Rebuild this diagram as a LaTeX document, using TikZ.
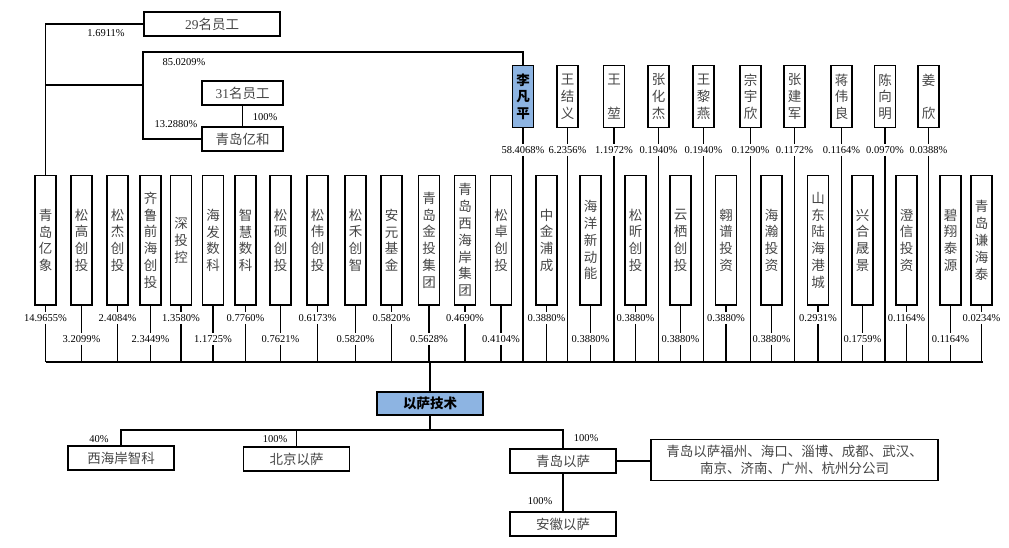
\documentclass[tikz,border=0pt]{standalone}
\usepackage{fontspec}
\setmainfont{Liberation Serif}
\newfontfamily\cjk{Noto Sans CJK SC}
\definecolor{hl}{RGB}{141,180,226}
\definecolor{txt}{RGB}{70,70,70}
\begin{document}
\begin{tikzpicture}[x=1pt,y=-1pt,
  ln/.style={line width=1.3pt},
  bx/.style={draw=black, line width=1.5pt, fill=white, inner sep=0pt, text=txt,
    font=\cjk\fontsize{13.5}{16.8}\selectfont, align=center},
  vb/.style={bx, minimum width=21pt, minimum height=129pt, anchor=north},
  pb/.style={bx, minimum width=21pt, minimum height=62pt, anchor=north},
  hb/.style={bx, minimum width=106pt, minimum height=24pt},
  pct/.style={font=\fontsize{10.5}{11}\selectfont, inner sep=2pt, text=black},
  hi/.style={fill=hl, text=black, font=\cjk\bfseries\fontsize{13.5}{16.8}\selectfont}
]
\fill[white] (0,0) rectangle (1009,548);
\useasboundingbox (0,0) rectangle (1009,548);

\coordinate (bus) at (45.5,362);
\coordinate (busE) at (983,362);
\draw[ln] (bus) -- (busE);

% companies
\foreach \i/\x/\t/\p/\ly in {
 1/45.5/{青\\岛\\亿\\象}/14.9655/318,
 2/81.5/{松\\高\\创\\投}/3.2099/339,
 3/117.5/{松\\杰\\创\\投}/2.4084/318,
 4/150.5/{齐\\鲁\\前\\海\\创\\投}/2.3449/339,
 5/181/{深\\投\\控}/1.3580/318,
 6/213/{海\\发\\数\\科}/1.1725/339,
 7/245.5/{智\\慧\\数\\科}/0.7760/318,
 8/280.5/{松\\硕\\创\\投}/0.7621/339,
 9/317.5/{松\\伟\\创\\投}/0.6173/318,
 10/355.5/{松\\禾\\创\\智}/0.5820/339,
 11/391.5/{安\\元\\基\\金}/0.5820/318,
 12/429/{青\\岛\\金\\投\\集\\团}/0.5628/339,
 13/465/{青\\岛\\西\\海\\岸\\集\\团}/0.4690/318,
 14/501/{松\\卓\\创\\投}/0.4104/339,
 15/546.5/{中\\金\\浦\\成}/0.3880/318,
 16/590.5/{海\\洋\\新\\动\\能}/0.3880/339,
 17/635.5/{松\\昕\\创\\投}/0.3880/318,
 18/680.5/{云\\栖\\创\\投}/0.3880/339,
 19/726/{翱\\谱\\投\\资}/0.3880/318,
 20/771.5/{海\\瀚\\投\\资}/0.3880/339,
 21/818/{山\\东\\陆\\海\\港\\城}/0.2931/318,
 22/862.5/{兴\\合\\晟\\景}/0.1759/339,
 23/906.5/{澄\\信\\投\\资}/0.1164/318,
 24/950.5/{碧\\翔\\泰\\源}/0.1164/339,
 25/981.5/{青\\岛\\谦\\海\\泰}/0.0234/318}{
  \node[vb] (c\i) at (\x,175) {\t};
  \node[pct] (l\i) at (\x,\ly) {\p\%};
  \draw[ln] (c\i.south) -- (l\i.north);
  \draw[ln] (l\i.south) -- (l\i.south |- bus);
}

% persons
\node[pb,hi] (p1) at (523,65) {李\\凡\\平};
\foreach \i/\x/\t in {
 2/567.5/{王\\结\\义},
 3/614/{王\\\phantom{王}\\堃},
 4/658.5/{张\\化\\杰},
 5/703.5/{王\\黎\\燕},
 6/750.5/{宗\\宇\\欣},
 7/794.5/{张\\建\\军},
 8/841.5/{蒋\\伟\\良},
 9/885/{陈\\向\\明},
 10/928.5/{姜\\\phantom{姜}\\欣}}{
  \node[pb] (p\i) at (\x,65) {\t};
}
\foreach \i/\p in {1/58.4068,2/6.2356,3/1.1972,4/0.1940,5/0.1940,6/0.1290,7/0.1172,8/0.1164,9/0.0970,10/0.0388}{
  \node[pct] (pl\i) at (p\i.south |- 0,150) {\p\%};
  \draw[ln] (p\i.south) -- (pl\i.north);
  \draw[ln] (pl\i.south) -- (pl\i.south |- bus);
}

% top-left holders
\node[bx, minimum width=136pt, minimum height=24pt] (e29) at (212,24) {{\rmfamily 29}名员工};
\node[bx, minimum width=81pt, minimum height=24pt] (e31) at (242.5,93) {{\rmfamily 31}名员工};
\node[bx, minimum width=81pt, minimum height=24pt] (yh) at (242.5,139) {青岛亿和};
\coordinate (j1) at (143,85);
\coordinate (kj) at (143,52);
\draw[ln] (e29.west) -| (c1.north);
\draw[ln] (c1.north |- j1) -- (j1);
\draw[ln] (p1.north) |- (kj) |- (yh.west);
\draw[ln] (e31.south) -- (yh.north);
\node[pct] (t1) at (106,33) {1.6911\%};
\node[pct] (t2) at (184,62) {85.0209\%};
\node[pct] (t3) at (265,117) {100\%};
\node[pct] (t4) at (176,124) {13.2880\%};

% bottom part
\node[hb, hi, minimum height=23pt] (ys) at (430,403.5) {以萨技术};
\draw[ln] (ys.north) -- (ys.north |- bus);
\coordinate (sb) at (430,430);
\node[hb] (xh) at (121,458) {西海岸智科};
\node[hb] (bj) at (296.5,459) {北京以萨};
\node[hb] (qd) at (563,461) {青岛以萨};
\node[hb] (ah) at (563,524) {安徽以萨};
\node[bx, minimum width=287pt, minimum height=41pt, font=\cjk\fontsize{13.5}{17.5}\selectfont] (br) at (794.5,460)
  {青岛以萨福州、海口、淄博、成都、武汉、\\南京、济南、广州、杭州分公司};
\draw[ln] (ys.south) -- (sb);
\draw[ln] (xh.north) |- (sb) -| (qd.north);
\draw[ln] (bj.north) -- (bj.north |- sb);
\draw[ln] (qd.east) -- (qd.east -| br.west);
\draw[ln] (qd.south) -- (ah.north);
\node[pct] (b1) at (99,439) {40\%};
\node[pct] (b2) at (275,439) {100\%};
\node[pct] (b3) at (586,438) {100\%};
\node[pct] (b4) at (540,501) {100\%};
\end{tikzpicture}
\end{document}
